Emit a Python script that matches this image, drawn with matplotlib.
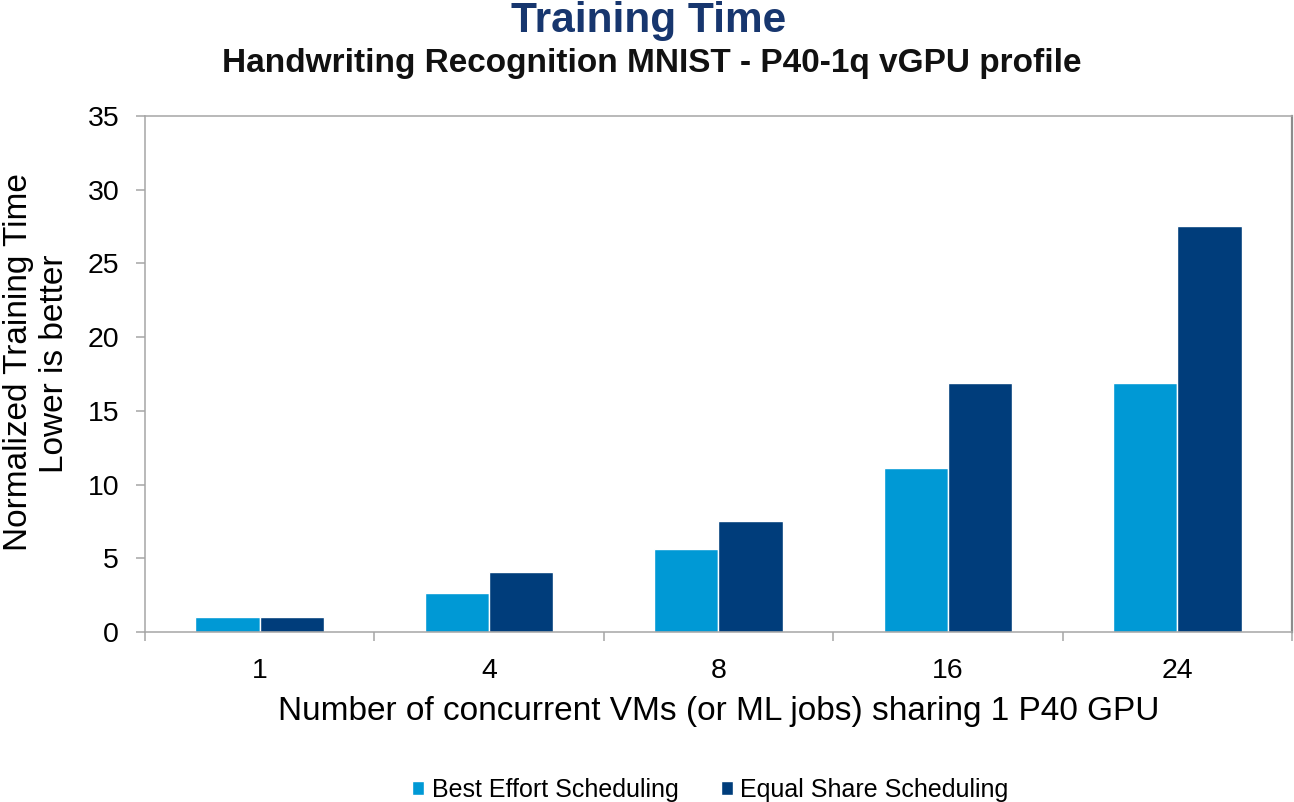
import matplotlib
matplotlib.use('Agg')
import matplotlib.pyplot as plt
import numpy as np

plt.rcParams['font.family'] = ['Liberation Sans', 'DejaVu Sans']

categories = ['1', '4', '8', '16', '24']
best_effort = [1.0, 2.65, 5.6, 11.1, 16.9]
equal_share = [1.0, 4.1, 7.55, 16.9, 27.5]

light_blue = '#0099D5'
dark_blue = '#003D7B'
grid_gray = '#A6A6A6'

fig = plt.figure(figsize=(12.94, 8.02), dpi=100)
ax = fig.add_axes([0.112, 0.212, 0.8865, 0.6435])

x = np.arange(len(categories))
w = 0.28
ax.bar(x - w / 2, best_effort, w, color=light_blue, edgecolor='white', linewidth=1.0,
       label='Best Effort Scheduling')
ax.bar(x + w / 2, equal_share, w, color=dark_blue, edgecolor='white', linewidth=1.0,
       label='Equal Share Scheduling')

ax.set_xlim(-0.5, len(categories) - 0.5)
ax.set_ylim(0, 35)
ax.set_yticks(range(0, 36, 5))
ax.tick_params(axis='y', labelsize=20.5, length=6.5, width=1.1, color=grid_gray, pad=12)

ax.set_xticks(x)
ax.set_xticklabels(categories)
ax.set_xticks(np.arange(-0.5, len(categories), 1), minor=True)
ax.tick_params(axis='x', which='major', length=0, labelsize=20.5, pad=19)
ax.tick_params(axis='x', which='minor', length=6.5, width=1.1, color=grid_gray)

for side in ['left', 'top', 'bottom']:
    ax.spines[side].set_color(grid_gray)
    ax.spines[side].set_linewidth(1.1)
ax.spines['right'].set_color('#8C8C8C')
ax.spines['right'].set_linewidth(1.6)

fig.text(0.5556, 1 - 720 / 802, 'Number of concurrent VMs (or ML jobs) sharing 1 P40 GPU',
         fontsize=24, ha='center', va='baseline')
fig.text(19 / 1294, 0.549, 'Normalized Training Time', rotation=90,
         fontsize=24, ha='center', va='center')
fig.text(55 / 1294, 0.546, 'Lower is better', rotation=90,
         fontsize=24, ha='center', va='center')

fig.text(0.5015, 1 - 32 / 802, 'Training Time', fontsize=30.5, fontweight='bold', color='#17366E',
         ha='center', va='baseline')
fig.text(0.5035, 1 - 72 / 802, 'Handwriting Recognition MNIST - P40-1q vGPU profile', fontsize=24,
         fontweight='bold', color='#111111', ha='center', va='baseline')

fig.legend(loc='center', bbox_to_anchor=(0.549, 0.015), ncol=2, frameon=False, fontsize=18,
           handlelength=0.48, handleheight=0.48, handletextpad=0.3, columnspacing=1.7)

fig.savefig('out.png', dpi=100)
